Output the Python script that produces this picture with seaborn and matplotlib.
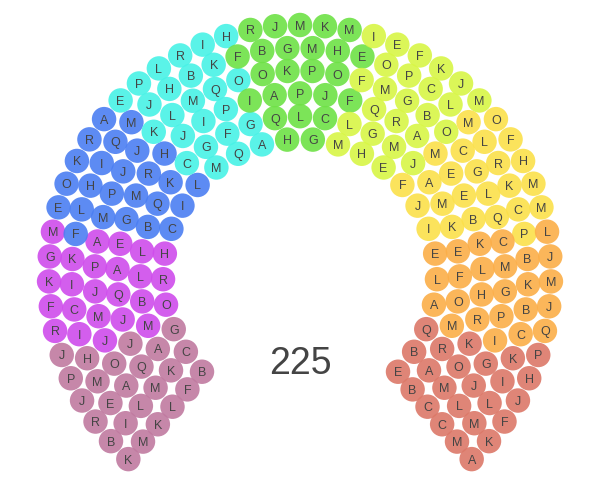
import numpy as np
import pandas as pd
import seaborn as sns
import matplotlib.pyplot as plt

# parties in seating order (left end -> right end), 225 seats in all
parties = ['mauve', 'magenta', 'blue', 'cyan', 'green', 'lime', 'yellow', 'orange', 'red']
seats = [25, 25, 25, 25, 25, 25, 25, 25, 25]
colors = ['#c07aa0', '#cf4cec', '#4b7ef2', '#48f2e6', '#6ee146', '#d8f646', '#fbe04a', '#fbae48', '#dc7868']
# letter on each seat, per party, in seating order
letters = [
    'KMKLFBBILMKRECAJQMAOPGJHJ',
    'JMIJROMBCFQJIRKLAPKGLHAME',
    'FEMLBGCOHPMQKIJIRRKQJALHM',
    'EKCJPJLMGHLIMBRFQQPIKGOHA',
    'IFROBQAJHKGMPLMPGKJCHOMEF',
    'MIFLOEQMHGFPGRKCMEBJALJOM',
    'MMFOCLAEFJGRHMELKMIBKCQMP',
    'LKCEEJBMLFMLKGHJBOPAQRCMI',
    'PKKQHGRIJOJBLFAMLMKEBCCMA',
]
total = sum(seats)

# parliament layout: concentric rows, seats spread by row radius
cx, cy = 300, 276
n_rows = 6
radii = np.linspace(137, 251, n_rows)
span = 139.7
raw = total * radii / radii.sum()
row_n = np.floor(raw).astype(int)
extra = total - row_n.sum()
row_n[np.argsort(-(raw - row_n))[:extra]] += 1

pts = []
for r, n in zip(radii, row_n):
    for j in range(n):
        th = -span + (j + 0.5) * 2 * span / n
        pts.append((round(th, 6), -r, r))
pts.sort()
th = np.radians([p[0] for p in pts])
rr = np.array([p[2] for p in pts])

df = pd.DataFrame({
    'x': cx + rr * np.sin(th),
    'y': cy - rr * np.cos(th),
    'party': np.repeat(parties, seats),
    'letter': list(''.join(letters)),
})

fig = plt.figure(figsize=(6, 5), dpi=100)
ax = fig.add_axes([0, 0, 1, 1])
sns.scatterplot(data=df, x='x', y='y', hue='party', palette=dict(zip(parties, colors)),
                s=310, alpha=0.9, linewidth=0, legend=False, ax=ax)
for _, row in df.iterrows():
    ax.text(row.x, row.y + 4.5, row.letter, ha='center', va='baseline', fontsize=9,
            color='#444444', family='Liberation Sans')
ax.text(cx, 374, str(total), ha='center', va='baseline', fontsize=27,
        color='#444444', family='Liberation Sans')
ax.set_xlim(0, 600)
ax.set_ylim(500, 0)
ax.axis('off')
fig.savefig('out.png', dpi=100)
